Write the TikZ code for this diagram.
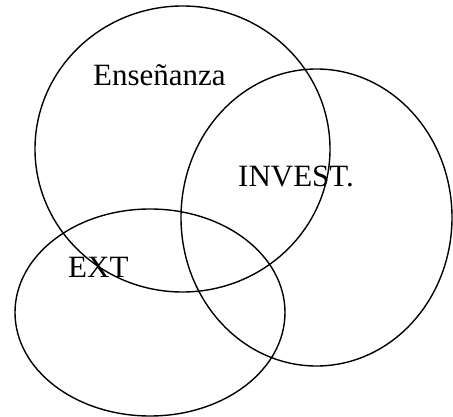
\documentclass[tikz,border=0pt]{standalone}
\usepackage{fontspec}
\setmainfont{Liberation Serif}
\usetikzlibrary{shapes.geometric}
\begin{document}
\begin{tikzpicture}[x=1pt,y=-1pt,
  circ/.style={ellipse, draw=black, line width=1.4pt, inner sep=0pt},
  lbl/.style={anchor=base west, inner sep=0pt, font=\fontsize{31}{36}\selectfont}]
\useasboundingbox (0,0) rectangle (453,417);
\node[circ, minimum width=295pt, minimum height=286pt] (ens) at (182.5,149) {};
\node[circ, minimum width=271pt, minimum height=297pt] (inv) at (316.5,217.5) {};
\node[circ, minimum width=270pt, minimum height=207pt] (ext) at (150,312.5) {};
\node[lbl] (tens) at (93,86) {Enseñanza};
\node[lbl] (tinv) at (238,187) {INVEST.};
\node[lbl] (text) at (68,277) {EXT};
\end{tikzpicture}
\end{document}
